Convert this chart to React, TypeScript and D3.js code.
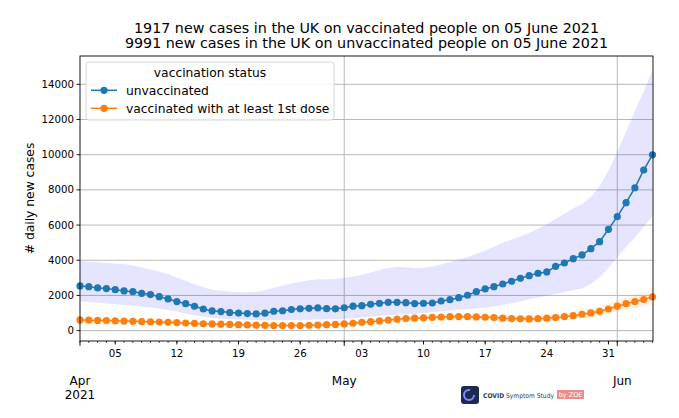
import * as d3 from "d3";
import { useEffect } from "react";

const startDate = new Date(Date.UTC(2021, 3, 1));

const unvaccinated = [
  2540, 2500, 2425, 2390, 2330, 2255, 2215, 2120, 2050, 1930, 1800, 1650, 1530, 1385,
  1230, 1120, 1080, 1025, 1000, 970, 950, 990, 1100, 1130, 1200, 1240, 1270, 1290,
  1250, 1240, 1300, 1390, 1420, 1500, 1555, 1610, 1610, 1590, 1535, 1555, 1570, 1685,
  1760, 1870, 2010, 2215, 2370, 2500, 2650, 2805, 2975, 3125, 3260, 3335, 3655, 3845,
  4090, 4300, 4660, 5055, 5760, 6475, 7270, 8120, 9130, 9991,
];
const unvaccinatedHi = [
  3975, 3920, 3880, 3850, 3820, 3780, 3700, 3600, 3480, 3360, 3220, 3020, 2820, 2640,
  2460, 2330, 2260, 2220, 2190, 2180, 2200, 2300, 2440, 2560, 2680, 2780, 2870, 2920,
  2920, 2940, 3000, 3080, 3170, 3300, 3440, 3560, 3630, 3600, 3560, 3580, 3640, 3760,
  3900, 4050, 4180, 4350, 4550, 4770, 4990, 5180, 5350, 5550, 5800, 6050, 6350, 6650,
  6950, 7200, 7600, 8200, 9100, 10150, 11300, 12500, 13600, 14800,
];
const unvaccinatedLo = [
  1650, 1620, 1580, 1540, 1500, 1460, 1420, 1370, 1310, 1250, 1170, 1080, 980, 880,
  790, 720, 680, 650, 630, 620, 610, 600, 590, 590, 600, 610, 620, 630,
  640, 650, 670, 700, 740, 790, 840, 880, 900, 920, 950, 1000, 1050, 1100,
  1150, 1180, 1220, 1270, 1320, 1370, 1460, 1560, 1660, 1780, 1880, 1980, 2080, 2180,
  2290, 2400, 2650, 3050, 3550, 4150, 4750, 5300, 5900, 6500,
];
const vaccinated = [
  610, 595, 580, 575, 560, 540, 530, 515, 500, 490, 470, 455, 430, 410,
  390, 380, 365, 350, 340, 325, 310, 300, 290, 285, 285, 290, 305, 320,
  340, 350, 380, 420, 470, 510, 550, 600, 650, 690, 710, 720, 750, 775,
  790, 800, 795, 780, 760, 740, 705, 685, 670, 665, 680, 705, 740, 795,
  850, 930, 1005, 1100, 1230, 1390, 1530, 1650, 1770, 1917,
];
const vaccinatedHi = [
  680, 665, 650, 640, 625, 605, 595, 580, 565, 555, 535, 520, 495, 475,
  455, 445, 430, 415, 405, 390, 375, 365, 355, 350, 350, 355, 370, 390,
  410, 425, 455, 500, 550, 595, 640, 690, 745, 790, 815, 830, 860, 890,
  910, 925, 925, 915, 900, 885, 855, 840, 830, 835, 860, 900, 950, 1020,
  1090, 1190, 1280, 1400, 1550, 1730, 1900, 2050, 2200, 2400,
];
const vaccinatedLo = [
  545, 530, 515, 510, 495, 475, 465, 450, 435, 425, 405, 390, 365, 345,
  325, 315, 300, 285, 275, 260, 245, 235, 225, 220, 220, 225, 240, 255,
  275, 280, 310, 345, 390, 430, 465, 510, 560, 595, 610, 615, 640, 660,
  675, 680, 670, 650, 625, 600, 560, 540, 520, 505, 515, 530, 555, 600,
  640, 700, 760, 830, 940, 1070, 1180, 1280, 1370, 1480,
];

const yTicks = [0, 2000, 4000, 6000, 8000, 10000, 12000, 14000];
const monthLabels = [
  { date: "2021-04-01", lines: ["Apr", "2021"] },
  { date: "2021-05-01", lines: ["May"] },
  { date: "2021-06-01", lines: ["Jun"] },
];
const titleLines = [
  "1917 new cases in the UK on vaccinated people on 05 June 2021",
  "9991 new cases in the UK on unvaccinated people on 05 June 2021",
];
const legendTitle = "vaccination status";
const seriesNames = ["unvaccinated", "vaccinated with at least 1st dose"];

const BLUE = "#1f77b4";
const ORANGE = "#ff7f0e";
const FONT = "DejaVu Sans, sans-serif";

const dates = unvaccinated.map((_, i) => d3.utcDay.offset(startDate, i));

export default function App() {
  useEffect(() => {
    document.body.style.margin = "0";
  }, []);

  const left = 80;
  const right = 653;
  const top = 56;
  const bottom = 341;

  const x = d3
    .scaleUtc()
    .domain([startDate, dates[dates.length - 1]])
    .range([left, 652.5]);
  const y = d3.scaleLinear().domain([-590, 15610]).range([bottom, top]);

  const line = d3
    .line<number>()
    .x((_, i) => x(dates[i]))
    .y((d) => y(d));
  const band = (lo: number[], hi: number[]) =>
    d3
      .area<number>()
      .x((_, i) => x(dates[i]))
      .y0((_, i) => y(lo[i]))
      .y1((d) => y(d))(hi) ?? "";

  const days = d3.utcDay.range(startDate, d3.utcDay.offset(dates[dates.length - 1], 1));
  const weeks = d3.utcMonday.range(startDate, d3.utcDay.offset(dates[dates.length - 1], 1));
  const months = monthLabels.map((m) => new Date(m.date + "T00:00:00Z"));
  const fmtDay = d3.utcFormat("%d");

  return (
    <svg
      width={679}
      height={418}
      style={{ position: "absolute", left: 0, top: 0, background: "#fff" }}
      fontFamily={FONT}
    >
      {/* title */}
      {titleLines.map((t, i) => (
        <text key={t} x={366.5} y={33 + i * 15} textAnchor="middle" fontSize={14.3} fill="#000">
          {t}
        </text>
      ))}

      {/* grid */}
      {yTicks.map((t) => (
        <line key={t} x1={left} x2={right} y1={y(t)} y2={y(t)} stroke="#b8b8b8" strokeWidth={1} />
      ))}
      {months.slice(1).map((m) => (
        <line key={+m} x1={x(m)} x2={x(m)} y1={top} y2={bottom} stroke="#b8b8b8" strokeWidth={1} />
      ))}

      {/* bands */}
      <path d={band(unvaccinatedLo, unvaccinatedHi)} fill="#0000ff" fillOpacity={0.1} />
      <path d={band(vaccinatedLo, vaccinatedHi)} fill={ORANGE} fillOpacity={0.1} />

      {/* series */}
      <path d={line(vaccinated) ?? ""} fill="none" stroke={ORANGE} strokeWidth={1.5} />
      {vaccinated.map((v, i) => (
        <circle key={"o" + i} cx={x(dates[i])} cy={y(v)} r={3.6} fill={ORANGE} />
      ))}
      <path d={line(unvaccinated) ?? ""} fill="none" stroke={BLUE} strokeWidth={1.5} />
      {unvaccinated.map((v, i) => (
        <circle key={"b" + i} cx={x(dates[i])} cy={y(v)} r={3.6} fill={BLUE} />
      ))}

      {/* spines */}
      <rect x={left} y={top} width={right - left} height={bottom - top} fill="none" stroke="#000" strokeWidth={0.9} />

      {/* y ticks */}
      {yTicks.map((t) => (
        <g key={t}>
          <line x1={left - 3.5} x2={left} y1={y(t)} y2={y(t)} stroke="#000" strokeWidth={0.9} />
          <text x={left - 6} y={y(t)} dy="0.35em" textAnchor="end" fontSize={10.2}>
            {t}
          </text>
        </g>
      ))}
      <text
        transform={`translate(34,${(top + bottom) / 2}) rotate(-90)`}
        textAnchor="middle"
        fontSize={12.3}
      >
        # daily new cases
      </text>

      {/* x ticks */}
      {days.map((d) => (
        <line key={+d} x1={x(d)} x2={x(d)} y1={bottom} y2={bottom + 2} stroke="#000" strokeWidth={0.7} />
      ))}
      {weeks.map((d) => (
        <g key={"w" + +d}>
          <line x1={x(d)} x2={x(d)} y1={bottom} y2={bottom + 3.5} stroke="#000" strokeWidth={0.9} />
          <text x={x(d)} y={bottom + 15.5} textAnchor="middle" fontSize={10.2}>
            {fmtDay(d)}
          </text>
        </g>
      ))}
      {monthLabels.map((m, i) => (
        <g key={m.date}>
          <line x1={x(months[i])} x2={x(months[i])} y1={bottom} y2={bottom + 5} stroke="#000" strokeWidth={0.9} />
          {m.lines.map((s, j) => (
            <text key={s} x={x(months[i]) + (i === 2 ? 5 : 0)} y={384.5 + j * 14.5} textAnchor="middle" fontSize={12}>
              {s}
            </text>
          ))}
        </g>
      ))}

      {/* legend */}
      <rect x={86} y={62} width={248} height={58} rx={3} fill="#fff" fillOpacity={0.85} stroke="#d6d6d6" />
      <text x={210} y={76.5} textAnchor="middle" fontSize={12.3}>
        {legendTitle}
      </text>
      {seriesNames.map((name, i) => {
        const cy = 90.3 + i * 18;
        const c = i === 0 ? BLUE : ORANGE;
        return (
          <g key={name}>
            <line x1={91} x2={117} y1={cy} y2={cy} stroke={c} strokeWidth={1.5} />
            <circle cx={104} cy={cy} r={3.6} fill={c} />
            <text x={126} y={cy} dy="0.35em" fontSize={12.3}>
              {name}
            </text>
          </g>
        );
      })}

      {/* logo */}
      <g>
        <rect x={461} y={386} width={18} height={18} rx={3} fill="#1b2a4e" />
        <circle cx={469} cy={395} r={5} fill="none" stroke="#7f8cff" strokeWidth={2} strokeDasharray="24 8" />
        <text x={483} y={397.5} fontSize={6.5} fill="#2a3a5e" textLength={71} lengthAdjust="spacingAndGlyphs">
          <tspan fontWeight="bold">COVID</tspan> Symptom Study
        </text>
        <rect x={557} y={390} width={27} height={9} fill="#f08a8a" />
        <text x={570.5} y={397.3} textAnchor="middle" fontSize={6.5} fill="#fff">
          by ZOE
        </text>
      </g>
    </svg>
  );
}
